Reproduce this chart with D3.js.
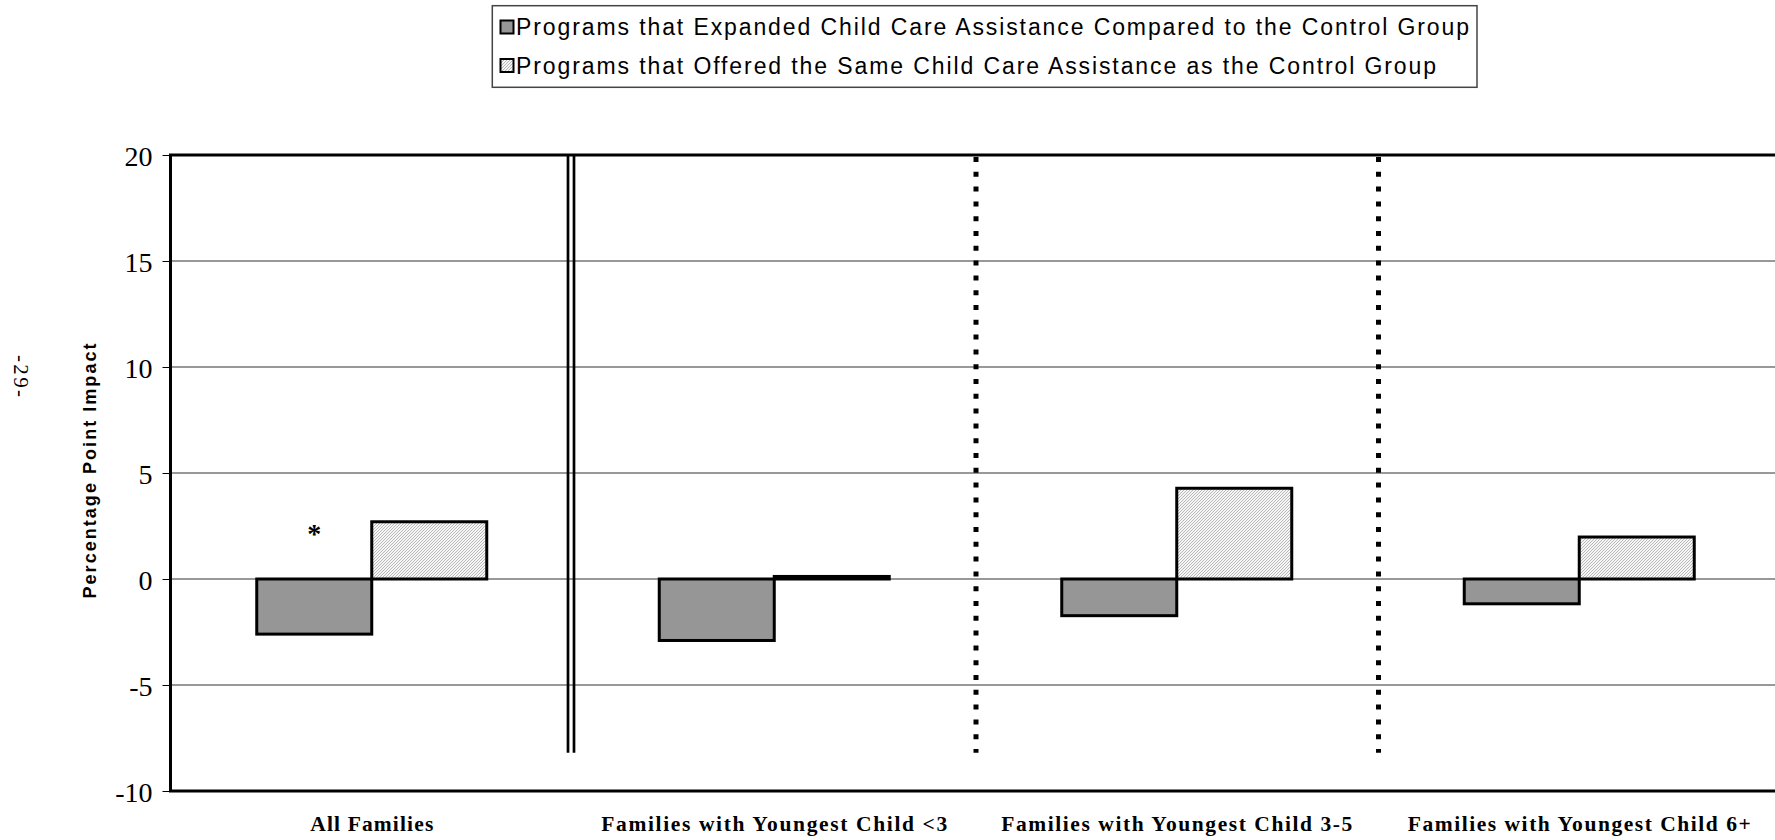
<!DOCTYPE html>
<html>
<head>
<meta charset="utf-8">
<script src="https://cdn.jsdelivr.net/npm/d3@7"></script>
<style>
  html, body { margin: 0; padding: 0; background: #fff; }
  svg { display: block; }
</style>
</head>
<body>
<script>
// Impact on child care use, by age of youngest child (percentage points)
const categories = [
  "All Families",
  "Families with Youngest Child <3",
  "Families with Youngest Child 3-5",
  "Families with Youngest Child 6+"
];
const seriesKeys = ["expanded", "same"];
const seriesLabels = [
  "Programs that Expanded Child Care Assistance Compared to the Control Group",
  "Programs that Offered the Same Child Care Assistance as the Control Group"
];
const expandedValues = [-2.6, -2.9, -1.73, -1.17];
const sameValues = [2.7, 0.12, 4.28, 1.98];
const expandedMarks = ["*", "", "", ""];
const yTicks = [-10, -5, 0, 5, 10, 15, 20];
const yTickLabels = ["-10", "-5", "0", "5", "10", "15", "20"];

const W = 1775, H = 840;
const plot = { left: 170.5, right: 1780.5, top: 155, bottom: 791 };

const svg = d3.select("body").append("svg")
  .attr("width", W).attr("height", H);

const defs = svg.append("defs");
const pat = defs.append("pattern")
  .attr("id", "hatch")
  .attr("patternUnits", "userSpaceOnUse")
  .attr("width", 3).attr("height", 3);
pat.append("rect").attr("width", 3).attr("height", 3).attr("fill", "#f6f6f6");
pat.append("path")
  .attr("d", "M-1,1 l2,-2 M0,3 l3,-3 M2,4 l2,-2")
  .attr("stroke", "#a8a8a8").attr("stroke-width", 0.8);

const fills = { expanded: "#969696", same: "url(#hatch)" };

const x = d3.scaleBand().domain(categories).range([plot.left, plot.right]).padding(0);
const xs = d3.scaleBand().domain(seriesKeys).range([0, x.bandwidth()])
  .paddingInner(0).paddingOuter(0.75);
const y = d3.scaleLinear().domain([-10, 20]).range([plot.bottom, plot.top]);

// horizontal gridlines
svg.append("g").selectAll("line")
  .data(yTicks.filter(t => t > -10 && t < 20))
  .join("line")
  .attr("x1", plot.left).attr("x2", plot.right)
  .attr("y1", d => y(d)).attr("y2", d => y(d))
  .attr("stroke", "#333").attr("stroke-width", 1);

// group separators: double rule after the first group, dotted rules after the others
const sepBottom = y(-8.2);
const dbl = x(categories[1]) - 2;
[-3, 3].forEach(o => {
  svg.append("line")
    .attr("x1", dbl + o).attr("x2", dbl + o)
    .attr("y1", plot.top).attr("y2", sepBottom)
    .attr("stroke", "#000").attr("stroke-width", 2.7);
});
[categories[2], categories[3]].forEach(c => {
  svg.append("line")
    .attr("x1", x(c) + 0.5).attr("x2", x(c) + 0.5)
    .attr("y1", plot.top + 2).attr("y2", sepBottom)
    .attr("stroke", "#000").attr("stroke-width", 5)
    .attr("stroke-dasharray", "5 9.8");
});

// bars
const rows = categories.map((c, i) => ({ c, expanded: expandedValues[i], same: sameValues[i], mark: expandedMarks[i] }));
seriesKeys.forEach(k => {
  svg.append("g").selectAll("rect")
    .data(rows)
    .join("rect")
    .attr("x", d => x(d.c) + xs(k))
    .attr("width", xs.bandwidth())
    .attr("y", d => y(Math.max(0, d[k])))
    .attr("height", d => Math.abs(y(d[k]) - y(0)))
    .attr("fill", fills[k])
    .attr("stroke", "#000").attr("stroke-width", 3);
});

// significance marker
svg.append("g").selectAll("text")
  .data(rows.filter(d => d.mark))
  .join("text")
  .attr("x", d => x(d.c) + xs("expanded") + xs.bandwidth() / 2)
  .attr("y", 543)
  .attr("text-anchor", "middle")
  .attr("font-family", "'Liberation Serif', 'Times New Roman', serif")
  .attr("font-weight", "bold")
  .attr("font-size", 28)
  .text(d => d.mark);

// frame (top, left, bottom)
svg.append("path")
  .attr("d", `M${plot.right},${plot.top}H${plot.left}V${plot.bottom}H${plot.right}`)
  .attr("fill", "none").attr("stroke", "#000").attr("stroke-width", 3);

// y axis
const yAxis = svg.append("g")
  .attr("transform", `translate(${plot.left},0)`)
  .call(d3.axisLeft(y).tickValues(yTicks).tickSize(8).tickPadding(10)
    .tickFormat((d, i) => yTickLabels[i]));
yAxis.select(".domain").remove();
yAxis.selectAll(".tick line").attr("stroke", "#000").attr("stroke-width", 1);
yAxis.selectAll(".tick text")
  .attr("font-family", "'Liberation Serif', 'Times New Roman', serif")
  .attr("font-size", 28)
  .attr("fill", "#000")
  .attr("dy", "0.38em");

// category labels
const catWidths = [123, 346, 351, 343];
svg.append("g").selectAll("text")
  .data(categories)
  .join("text")
  .attr("x", d => x(d) + x.bandwidth() / 2)
  .attr("y", 831)
  .attr("text-anchor", "middle")
  .attr("font-family", "'Liberation Serif', 'Times New Roman', serif")
  .attr("font-weight", "bold")
  .attr("font-size", 21.5)
  .attr("textLength", (d, i) => catWidths[i])
  .attr("lengthAdjust", "spacing")
  .text(d => d);

// y axis title
svg.append("text")
  .attr("transform", "translate(96,471) rotate(-90)")
  .attr("text-anchor", "middle")
  .attr("font-family", "'Liberation Sans', Arial, sans-serif")
  .attr("font-weight", "bold")
  .attr("font-size", 18)
  .attr("textLength", 255)
  .attr("lengthAdjust", "spacing")
  .text("Percentage Point Impact");

// page number
svg.append("text")
  .attr("transform", "translate(14,376) rotate(90)")
  .attr("text-anchor", "middle")
  .attr("font-family", "'Liberation Serif', 'Times New Roman', serif")
  .attr("font-size", 21)
  .attr("textLength", 42)
  .attr("lengthAdjust", "spacing")
  .text("-29-");

// legend
const legend = svg.append("g");
legend.append("rect")
  .attr("x", 492.3).attr("y", 5.7).attr("width", 984.7).attr("height", 81.6)
  .attr("fill", "#fff").attr("stroke", "#444").attr("stroke-width", 1.5);
const legWidths = [953, 920];
const legMid = [27, 65.5];
seriesKeys.forEach((k, i) => {
  legend.append("rect")
    .attr("x", 500.5).attr("y", legMid[i] - 6.5).attr("width", 13).attr("height", 13)
    .attr("fill", fills[k]).attr("stroke", "#000").attr("stroke-width", 2);
  legend.append("text")
    .attr("x", 516).attr("y", legMid[i] + 8.2)
    .attr("font-family", "'Liberation Sans', Arial, sans-serif")
    .attr("font-size", 23)
    .attr("textLength", legWidths[i])
    .attr("lengthAdjust", "spacing")
    .text(seriesLabels[i]);
});
</script>
</body>
</html>
